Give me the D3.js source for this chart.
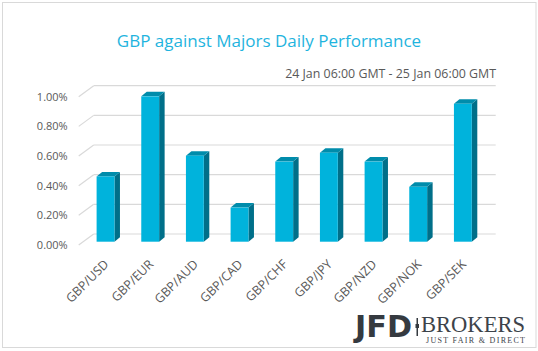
<!DOCTYPE html>
<html>
<head>
<meta charset="utf-8">
<script src="https://cdn.jsdelivr.net/npm/d3@7"></script>
<style>
  html, body { margin: 0; padding: 0; background: #ffffff; }
  svg { display: block; font-family: 'Open Sans', sans-serif; }
</style>
</head>
<body>
<div id="chart"></div>
<script>
const categories = ['GBP/USD', 'GBP/EUR', 'GBP/AUD', 'GBP/CAD', 'GBP/CHF', 'GBP/JPY', 'GBP/NZD', 'GBP/NOK', 'GBP/SEK']
const values = [0.44, 0.98, 0.58, 0.23, 0.54, 0.60, 0.54, 0.37, 0.93]
const yTicks = [0, 0.2, 0.4, 0.6, 0.8, 1.0]
const title = 'GBP against Majors Daily Performance'
const subtitle = '24 Jan 06:00 GMT - 25 Jan 06:00 GMT'

const width = 538
const height = 351

// 3D offsets: back wall vs bar plane vs front edge
const wallDx = 10.5, wallDy = -7.7   // bar plane -> back wall
const frontDx = -4.5, frontDy = 3.3  // bar plane -> front edge
const barDx = 5.5, barDy = -4.5      // bar depth

const svg = d3.select('#chart')
  .append('svg')
  .attr('width', width)
  .attr('height', height)

// outer border
svg.append('rect')
  .attr('x', 2.5).attr('y', 2.5)
  .attr('width', width - 4.5).attr('height', height - 6)
  .attr('fill', '#ffffff')
  .attr('stroke', '#d9d9d9')
  .attr('stroke-width', 1)

svg.append('text')
  .attr('x', width / 2)
  .attr('y', 47)
  .attr('text-anchor', 'middle')
  .style('font-size', '17px')
  .style('fill', '#1fb4de')
  .text(title)

svg.append('text')
  .attr('x', 496)
  .attr('y', 78)
  .attr('text-anchor', 'end')
  .style('font-size', '12.4px')
  .style('fill', '#595959')
  .text(subtitle)

const x = d3.scaleBand()
  .domain(categories)
  .range([83.2, 485.2])
  .paddingInner(0.6)
  .paddingOuter(0.3)

const y = d3.scaleLinear()
  .domain([0, 1.0])
  .range([241.7, 93.4])

const grid = svg.append('g').classed('grid', true)

// back wall gridlines
grid.selectAll('line.wall').data(yTicks).enter()
  .append('line')
  .classed('wall', true)
  .attr('x1', x.range()[0] + wallDx)
  .attr('x2', x.range()[1] + wallDx)
  .attr('y1', d => y(d) + wallDy)
  .attr('y2', d => y(d) + wallDy)
  .attr('stroke', '#d9d9d9')
  .attr('stroke-width', 1.2)

// side wall slanted gridlines
grid.selectAll('line.side').data(yTicks).enter()
  .append('line')
  .classed('side', true)
  .attr('x1', x.range()[0] + frontDx)
  .attr('x2', x.range()[0] + wallDx)
  .attr('y1', d => y(d) + frontDy)
  .attr('y2', d => y(d) + wallDy)
  .attr('stroke', '#d9d9d9')
  .attr('stroke-width', 1.2)

// y labels
const yAxis = d3.axisLeft(y.copy().range([y.range()[0] + frontDy, y.range()[1] + frontDy]))
  .tickValues(yTicks)
  .tickSize(0)
  .tickPadding(0)
  .tickFormat(d => d3.format('.2f')(d) + '%')

svg.append('g')
  .classed('yAxis', true)
  .attr('transform', `translate(${x.range()[0] + frontDx - 11}, 0)`)
  .call(yAxis)
  .call(g => g.select('.domain').remove())
  .selectAll('text')
  .style('font-family', "'Open Sans', sans-serif")
  .style('font-size', '11px')
  .style('fill', '#595959')

// bars
const bw = x.bandwidth()
const nodeg = svg.append('g').classed('bar', true)
  .selectAll('g.node').data(categories.map((c, i) => ({ name: c, value: values[i] })))
  .enter()
  .append('g')
  .classed('node', true)

nodeg.append('path')
  .attr('d', d => {
    const x1 = x(d.name) + bw
    const yt = y(d.value), yb = y(0)
    return `M${x1},${yt}L${x1 + barDx},${yt + barDy}L${x1 + barDx},${yb + barDy}L${x1},${yb}Z`
  })
  .style('fill', '#006f89')

nodeg.append('path')
  .attr('d', d => {
    const x0 = x(d.name), x1 = x0 + bw
    const yt = y(d.value)
    return `M${x0},${yt}L${x1},${yt}L${x1 + barDx},${yt + barDy}L${x0 + barDx},${yt + barDy}Z`
  })
  .style('fill', '#008cab')

nodeg.append('rect')
  .attr('x', d => x(d.name))
  .attr('y', d => y(d.value))
  .attr('width', bw)
  .attr('height', d => y(0) - y(d.value))
  .style('fill', '#00b3dc')

// x labels
svg.append('g').classed('xAxis', true)
  .selectAll('text').data(categories).enter()
  .append('text')
  .attr('transform', d => `translate(${x(d) + bw / 2 + 4}, 265) rotate(-45)`)
  .attr('text-anchor', 'end')
  .style('font-size', '12.5px')
  .style('fill', '#595959')
  .text(d => d)

// logo
const logo = svg.append('g').classed('logo', true)
logo.append('text')
  .attr('x', 355)
  .attr('y', 337)
  .style('font-family', "'DejaVu Sans', sans-serif")
  .style('font-weight', 'bold')
  .style('font-size', '30px')
  .style('fill', '#353a40')
  .attr('textLength', 57)
  .attr('lengthAdjust', 'spacingAndGlyphs')
  .text('JFD')
logo.append('rect')
  .attr('x', 416.5).attr('y', 318)
  .attr('width', 1.5).attr('height', 18)
  .style('fill', '#353a40')
logo.append('rect')
  .attr('x', 415.5).attr('y', 324)
  .attr('width', 3.5).attr('height', 4)
  .style('fill', '#353a40')
logo.append('text')
  .attr('x', 421)
  .attr('y', 332)
  .style('font-family', "'Liberation Serif', serif")
  .style('font-size', '24px')
  .style('fill', '#3d434a')
  .attr('textLength', 104)
  .attr('lengthAdjust', 'spacingAndGlyphs')
  .text('BROKERS')
logo.append('text')
  .attr('x', 426)
  .attr('y', 343)
  .style('font-family', "'Liberation Serif', serif")
  .style('font-size', '8px')
  .style('fill', '#3d434a')
  .attr('textLength', 99)
  .attr('lengthAdjust', 'spacing')
  .text('JUST FAIR & DIRECT')
</script>
</body>
</html>
